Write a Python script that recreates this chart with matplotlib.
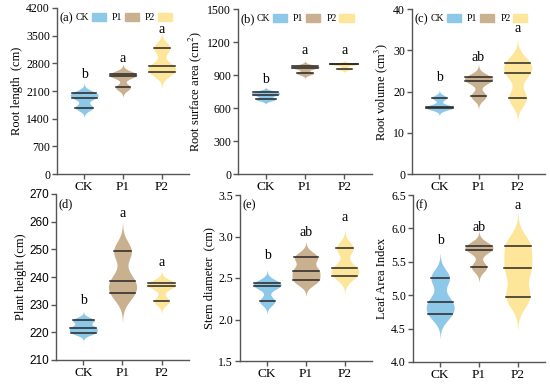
import numpy as np
import matplotlib
matplotlib.use("Agg")
from matplotlib import pyplot as plt
from matplotlib.patches import Patch

plt.rcParams['font.family'] = ['Liberation Serif', 'DejaVu Serif']
plt.rcParams['mathtext.fontset'] = 'stix'

groups = ['CK', 'P1', 'P2']
colors = ['#8ec8e8', '#c9b08f', '#fde69a']

# three replicate values per group
root_length = [[2045, 1935, 1682], [2535, 2484, 2189], [3186, 2721, 2577]]
root_area = [[745, 721, 679], [982, 964, 915], [999, 996, 955]]
root_volume = [[18.5, 16.3, 16.0], [23.4, 22.6, 18.9], [27.0, 24.4, 18.4]]
plant_height = [[224.4, 221.7, 219.9], [249.3, 238.7, 234.1], [237.8, 236.7, 231.3]]
stem_diameter = [[2.44, 2.40, 2.22], [2.75, 2.59, 2.47], [2.86, 2.62, 2.53]]
leaf_area = [[5.26, 4.90, 4.72], [5.74, 5.68, 5.42], [5.74, 5.40, 4.98]]

letters_a = ['b', 'a', 'a']
letters_b = ['b', 'a', 'a']
letters_c = ['b', 'ab', 'a']
letters_d = ['b', 'a', 'a']
letters_e = ['b', 'ab', 'a']
letters_f = ['b', 'ab', 'a']

letter_y_a = [2510, 2930, 3660]
letter_y_b = [855, 1127, 1127]
letter_y_c = [23.4, 28.3, 35.3]
letter_y_d = [231.4, 262.8, 245.2]
letter_y_e = [2.77, 3.05, 3.23]
letter_y_f = [5.82, 6.02, 6.35]

panels = [
    ('(a)', root_length, letters_a, letter_y_a, 'Root length  (cm)', (0, 4200, 700), '{:.0f}', True),
    ('(b)', root_area, letters_b, letter_y_b, 'Root surface area (cm$^2$)', (0, 1500, 300), '{:.0f}', True),
    ('(c)', root_volume, letters_c, letter_y_c, 'Root volume (cm$^3$)', (0, 40, 10), '{:.0f}', True),
    ('(d)', plant_height, letters_d, letter_y_d, 'Plant height (cm)', (210, 270, 10), '{:.0f}', False),
    ('(e)', stem_diameter, letters_e, letter_y_e, 'Stem diameter  (cm)', (1.5, 3.5, 0.5), '{:.1f}', False),
    ('(f)', leaf_area, letters_f, letter_y_f, 'Leaf Area Index', (4.0, 6.5, 0.5), '{:.1f}', False),
]

# axes boxes in pixels: left, right, top, bottom
boxes = [(57, 189, 8, 174), (238, 372, 9, 174), (412, 545, 9, 174),
         (56, 189, 194, 360), (240, 372, 195, 361), (413, 545, 195, 362)]

W, H = 550, 386
fig = plt.figure(figsize=(5.5, 3.86), dpi=100)


def kde(vals, grid, bw):
    d = np.zeros_like(grid)
    for v in vals:
        d += np.exp(-0.5 * ((grid - v) / bw) ** 2)
    return d


for i, (tag, data, lets, lety, ylab, yr, fmt, leg) in enumerate(panels):
    l, r, t, b = boxes[i]
    ax = fig.add_axes([l / W, 1 - b / H, (r - l) / W, (b - t) / H])
    for j, vals in enumerate(data):
        vals = np.array(vals, float)
        bw = 0.55 * vals.std(ddof=1) * len(vals) ** (-0.2)
        grid = np.linspace(vals.min() - 3 * bw, vals.max() + 3 * bw, 300)
        dens = kde(vals, grid, bw)
        dens = dens / dens.max() * 0.36
        x = j + 1
        ax.fill_betweenx(grid, x - dens, x + dens, color=colors[j], lw=0, zorder=2)
        for v in vals:
            w = np.interp(v, grid, dens)
            ax.plot([x - w, x + w], [v, v], color='#262626', lw=1.1, zorder=3)
        ax.text(x, lety[j], lets[j], ha='center', va='center', fontsize=10)

    ax.set_xlim(0.3, 3.7)
    ax.set_ylim(yr[0], yr[1])
    ticks = np.arange(yr[0], yr[1] + yr[2] / 2, yr[2])
    ax.set_yticks(ticks)
    ax.set_yticklabels([fmt.format(v) for v in ticks])
    ax.set_xticks([1, 2, 3])
    ax.set_xticklabels(groups)
    for s in ['top', 'right']:
        ax.spines[s].set_visible(False)
    for s in ['left', 'bottom']:
        ax.spines[s].set_color('#555555')
        ax.spines[s].set_linewidth(1.0)
    ax.tick_params(direction='out', length=3.5, width=1, color='#555555', labelsize=8.5, pad=1.5)
    ax.tick_params(axis='x', labelsize=9.5)
    if tag == '(d)':
        for lab in ax.get_yticklabels():
            lab.set_family('Liberation Sans')
    ax.set_ylabel(ylab, fontsize=9, labelpad=2)
    ax.text(0.02, 0.975, tag, transform=ax.transAxes, ha='left', va='top', fontsize=9)
    if leg:
        handles = [Patch(color=c, label=g) for c, g in zip(colors, groups)]
        ax.legend(handles=handles, ncol=3, markerfirst=False, frameon=False,
                  loc='upper left', bbox_to_anchor=(0.14, 0.97), fontsize=7,
                  handlelength=1.45, handleheight=0.85, handletextpad=0.3,
                  columnspacing=0.6, borderaxespad=0.0, borderpad=0.0)

fig.savefig('out.png', dpi=100)
